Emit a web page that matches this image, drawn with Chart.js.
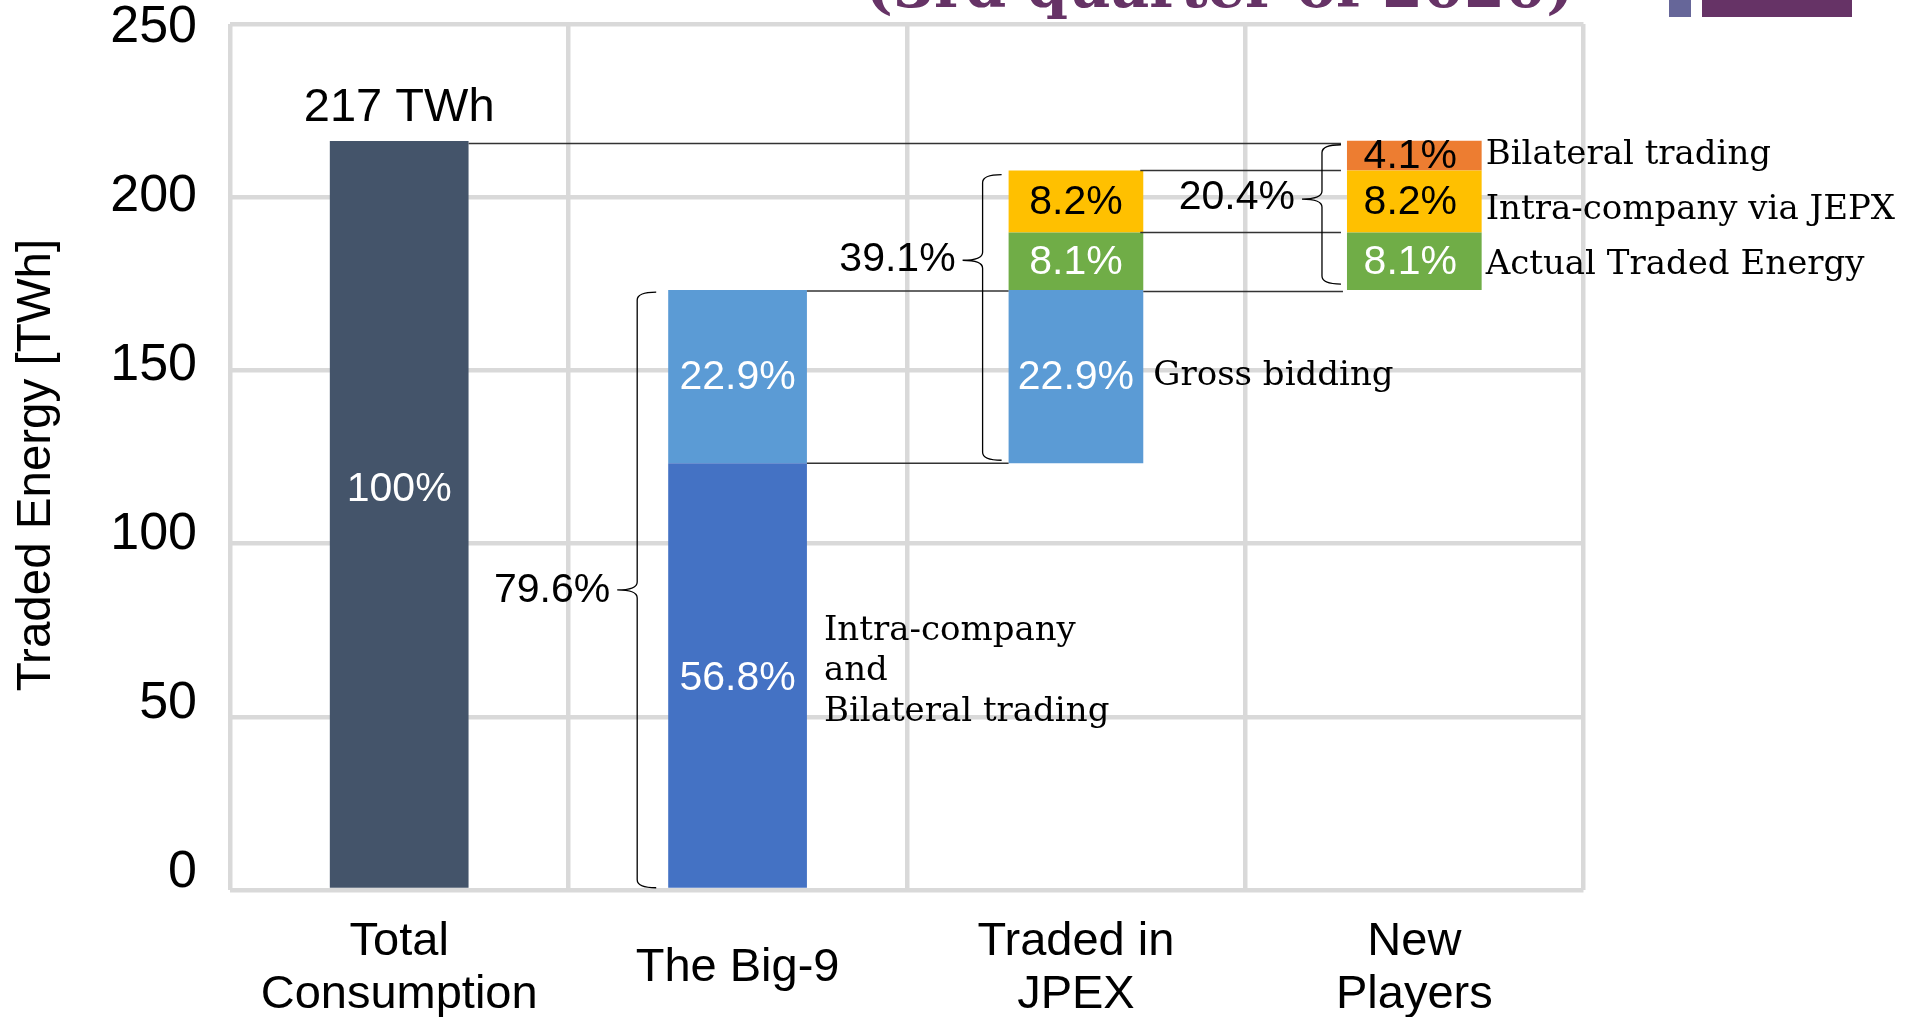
<!DOCTYPE html>
<html>
<head>
<meta charset="utf-8">
<script src="https://cdn.jsdelivr.net/npm/chart.js@4.4.1/dist/chart.umd.min.js"></script>
<style>
  html, body { margin: 0; padding: 0; background: #fff; }
  #wrap { width: 1921px; height: 1017px; position: relative; }
</style>
</head>
<body>
<div id="wrap"><canvas id="energy-chart"></canvas></div>
<script>
// x categories and y ticks
const categories = [['Total', 'Consumption'], 'The Big-9', ['Traded in', 'JPEX'], ['New', 'Players']];
const yTicks = [0, 50, 100, 150, 200, 250];
// the tick text sits on a slightly tighter band than the grid
const yLabelRange = [-5.03, 251.03];

// traded energy in TWh
const totalEnergy = 216.2;
const big9Intra = 123.2;        // intra-company and bilateral trading
const grossBidding = 50.0;
const actualTraded = 16.6;
const intraViaJepx = 17.9;
const bilateralTrading = 8.6;

// share labels
const totalLabel = '217 TWh';
const shares = { total: '100%', intra: '56.8%', gross: '22.9%', actual: '8.1%', jepx: '8.2%', bilateral: '4.1%' };
const bracketShares = ['79.6%', '39.1%', '20.4%'];

const big9Top = big9Intra + grossBidding;

// one floating bar per segment: [column, from, to]
const segments = [
  { col: 0, from: 0, to: totalEnergy, color: '#44546A', text: shares.total, ink: '#fff' },
  { col: 1, from: 0, to: big9Intra, color: '#4472C4', text: shares.intra, ink: '#fff' },
  { col: 1, from: big9Intra, to: big9Top, color: '#5B9BD5', text: shares.gross, ink: '#fff' },
  { col: 2, from: big9Intra, to: big9Top, color: '#5B9BD5', text: shares.gross, ink: '#fff' },
  { col: 2, from: big9Top, to: big9Top + actualTraded, color: '#70AD47', text: shares.actual, ink: '#fff' },
  { col: 2, from: big9Top + actualTraded, to: big9Top + actualTraded + intraViaJepx, color: '#FFC000', text: shares.jepx, ink: '#000' },
  { col: 3, from: big9Top, to: big9Top + actualTraded, color: '#70AD47', text: shares.actual, ink: '#fff' },
  { col: 3, from: big9Top + actualTraded, to: big9Top + actualTraded + intraViaJepx, color: '#FFC000', text: shares.jepx, ink: '#000' },
  { col: 3, from: big9Top + actualTraded + intraViaJepx, to: big9Top + actualTraded + intraViaJepx + bilateralTrading, color: '#ED7D31', text: shares.bilateral, ink: '#000' }
];

Chart.defaults.font.family = "'Liberation Sans', Arial, sans-serif";
Chart.defaults.color = '#000';

const SANS = "'Liberation Sans', Arial, sans-serif";
const SERIF = "'DejaVu Serif', serif";
const GRID = '#D9D9D9';

function bar(chart, i) {
  const el = chart.getDatasetMeta(i).data[segments[i].col];
  return { left: el.x - el.width / 2, right: el.x + el.width / 2, x: el.x, top: Math.min(el.y, el.base), bottom: Math.max(el.y, el.base) };
}

function hline(ctx, x1, x2, y) {
  ctx.beginPath();
  ctx.moveTo(x1, y);
  ctx.lineTo(x2, y);
  ctx.stroke();
}

// curly brace opening to the right, tip on the left
function brace(ctx, xEnd, yTop, yBot, tipFrac) {
  const xV = xEnd - 19, xTip = xEnd - 39, r = 8;
  const yTip = yTop + (yBot - yTop) * tipFrac;
  ctx.beginPath();
  ctx.moveTo(xEnd, yTop);
  ctx.quadraticCurveTo(xV, yTop, xV, yTop + r);
  ctx.lineTo(xV, yTip - r);
  ctx.quadraticCurveTo(xV, yTip, xTip, yTip);
  ctx.quadraticCurveTo(xV, yTip, xV, yTip + r);
  ctx.lineTo(xV, yBot - r);
  ctx.quadraticCurveTo(xV, yBot, xEnd, yBot);
  ctx.stroke();
  return { x: xTip, y: yTip };
}

const annotations = {
  id: 'annotations',
  afterDatasetsDraw(chart) {
    const ctx = chart.ctx;
    const total = bar(chart, 0), intra = bar(chart, 1), g9 = bar(chart, 2);
    const jg = bar(chart, 3), ja = bar(chart, 4), jj = bar(chart, 5);
    const na = bar(chart, 6), nj = bar(chart, 7), nb = bar(chart, 8);
    ctx.save();

    // connector lines
    ctx.strokeStyle = '#333';
    ctx.lineWidth = 1.5;
    const newEdge = na.left - 6;
    hline(ctx, total.right, newEdge, total.top + 2.5);
    hline(ctx, g9.right, jg.left, g9.top + 1);
    hline(ctx, g9.right, jg.left, g9.bottom);
    hline(ctx, jj.right - 3, newEdge, jj.top);
    hline(ctx, ja.right - 3, newEdge, ja.top);
    hline(ctx, jg.right, newEdge + 2, jg.top + 1.5);

    // braces with totals
    ctx.strokeStyle = '#000';
    ctx.lineWidth = 1.3;
    const tips = [
      brace(ctx, intra.left - 12, g9.top + 2, intra.bottom, 0.5),
      brace(ctx, jg.left - 7, jj.top + 4, jg.bottom - 3, 0.3),
      brace(ctx, na.left - 6, nb.top + 4, na.bottom - 6, 0.39)
    ];
    ctx.fillStyle = '#000';
    ctx.font = '41px ' + SANS;
    ctx.textAlign = 'right';
    ctx.textBaseline = 'middle';
    tips.forEach((t, i) => ctx.fillText(bracketShares[i], t.x - 7, t.y + (i === 0 ? 1 : -1)));

    // share labels inside bars
    ctx.textAlign = 'center';
    segments.forEach((s, i) => {
      const b = bar(chart, i);
      const dy = i === 0 ? -25 : (i === 1 ? 3 : 1);
      ctx.fillStyle = s.ink;
      ctx.fillText(s.text, b.x - (s.col === 3 ? 4 : 0), (b.top + b.bottom) / 2 + dy);
    });

    // total above first bar
    ctx.fillStyle = '#000';
    ctx.font = '47px ' + SANS;
    ctx.fillText(totalLabel, total.x, total.top - 33);

    // serif notes
    ctx.font = '34px ' + SERIF;
    ctx.textAlign = 'left';
    const noteY = (b) => (b.top + b.bottom) / 2;
    ['Intra-company', 'and', 'Bilateral trading'].forEach((t, k) => {
      ctx.fillText(t, intra.right + 17, noteY(intra) - 4 + (k - 1) * 40.5);
    });
    ctx.fillText('Gross bidding', jg.right + 10, noteY(jg));
    ctx.fillText('Bilateral trading', nb.right + 4, noteY(nb) - 0.5);
    ctx.fillText('Intra-company via JEPX', nj.right + 4, noteY(nj) + 8.5);
    ctx.fillText('Actual Traded Energy', na.right + 4, noteY(na) + 3.5);

    // y axis title
    ctx.save();
    ctx.translate(37, 465);
    ctx.rotate(-Math.PI / 2);
    ctx.textAlign = 'center';
    ctx.font = '47.5px ' + SANS;
    ctx.fillText('Traded Energy [TWh]', 0, 0);
    ctx.restore();

    // slide heading, cut off by the top edge
    const heading = '(3rd quarter of 2020)';
    ctx.font = 'bold 52px ' + SERIF;
    const fit = 52 * 709 / ctx.measureText(heading).width;
    ctx.font = 'bold ' + fit.toFixed(1) + 'px ' + SERIF;
    ctx.fillStyle = '#663366';
    ctx.textBaseline = 'alphabetic';
    ctx.textAlign = 'left';
    ctx.fillText(heading, 865, 7);
    ctx.fillStyle = '#666699';
    ctx.fillRect(1669, 0, 22, 17);
    ctx.fillStyle = '#663366';
    ctx.fillRect(1702, 0, 150, 17);

    ctx.restore();
  }
};

new Chart(document.getElementById('energy-chart'), {
  type: 'bar',
  data: {
    labels: categories,
    datasets: segments.map(s => ({
      data: categories.map((c, i) => (i === s.col ? [s.from, s.to] : null)),
      backgroundColor: s.color,
      borderWidth: 0,
      grouped: false,
      categoryPercentage: 1,
      barPercentage: s.col < 2 ? 0.41 : 0.398
    }))
  },
  options: {
    responsive: true,
    maintainAspectRatio: false,
    animation: false,
    layout: { padding: { left: 0, right: 337.5, top: 24, bottom: 0 } },
    plugins: { legend: { display: false }, tooltip: { enabled: false } },
    scales: {
      x: {
        grid: { offset: true, color: GRID, lineWidth: 4.5, drawTicks: false },
        border: { display: false },
        ticks: {
          font: { size: 47, lineHeight: 1.12 },
          color: '#000',
          padding: 52,
          maxRotation: 0,
          autoSkip: false,
          crossAlign: 'center'
        },
        afterFit: s => { s.height = 127; s.paddingLeft = 0; s.paddingRight = 0; }
      },
      y: {
        min: yTicks[0],
        max: yTicks[yTicks.length - 1],
        afterBuildTicks: s => { s.ticks = yTicks.map(v => ({ value: v })); },
        grid: { color: GRID, lineWidth: 4.5, drawTicks: false },
        border: { display: false },
        ticks: { display: false },
        afterFit: s => { s.width = 0; s.paddingTop = 0; s.paddingBottom = 0; }
      },
      yLabels: {
        position: 'left',
        min: yLabelRange[0],
        max: yLabelRange[1],
        afterBuildTicks: s => { s.ticks = yTicks.map(v => ({ value: v })); },
        grid: { display: false, drawTicks: false },
        border: { display: false },
        ticks: { font: { size: 52 }, color: '#000', padding: 33 },
        afterFit: s => { s.width = 230; s.paddingTop = 0; s.paddingBottom = 0; }
      }
    }
  },
  plugins: [annotations]
});
</script>
</body>
</html>
